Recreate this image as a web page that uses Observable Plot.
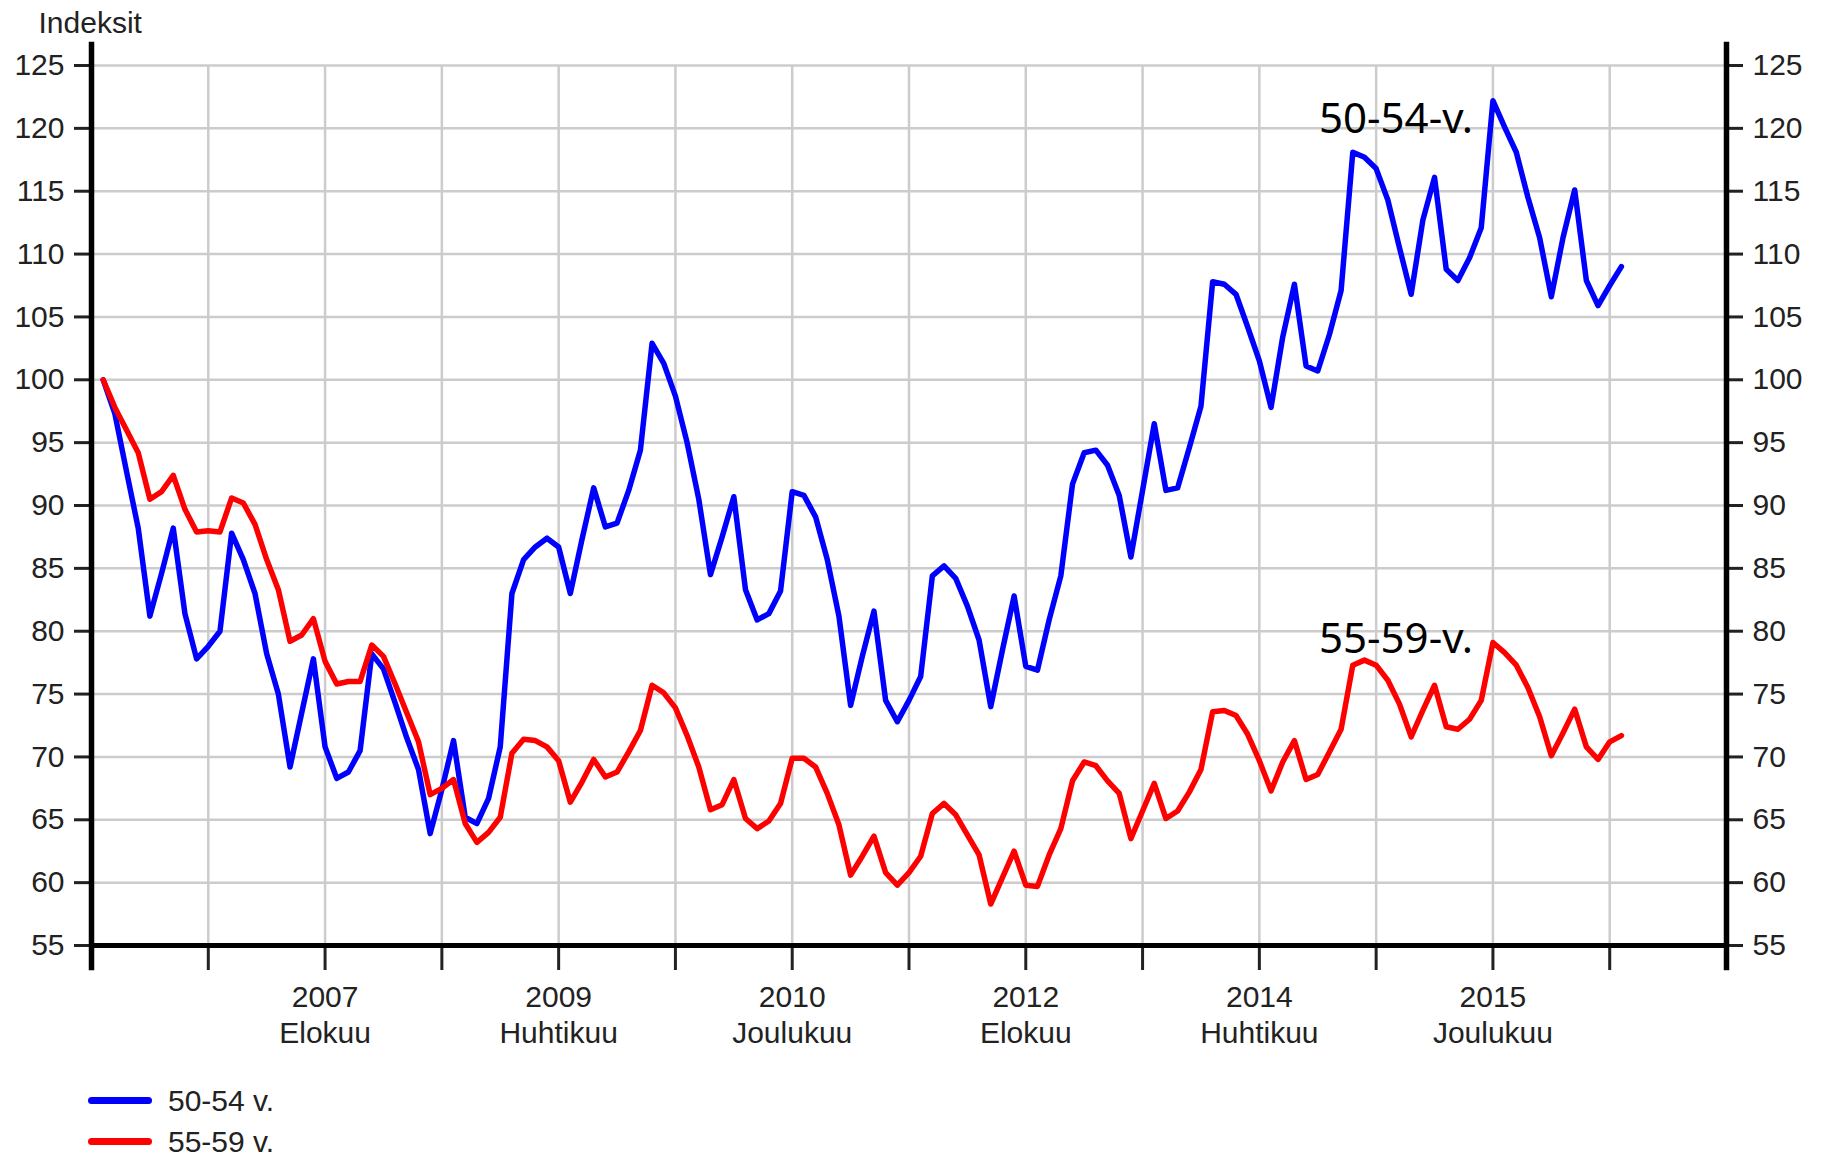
<!DOCTYPE html>
<html>
<head>
<meta charset="utf-8">
<script src="https://cdn.jsdelivr.net/npm/d3@7"></script>
<script src="https://cdn.jsdelivr.net/npm/@observablehq/plot@0.6"></script>
<style>
  html, body { margin: 0; padding: 0; background: #fff; }
  #chart { width: 1825px; height: 1070px; }
  .legend { font-family: "Liberation Sans", Arial, sans-serif; font-size: 30px; color: #222; padding-left: 88px; padding-top: 10px; }
  .legend .row { display: flex; align-items: center; height: 41px; }
  .legend .sw { width: 64px; height: 7px; border-radius: 4px; margin-right: 16px; }
</style>
</head>
<body>
<div id="chart"></div>
<div class="legend" id="legend"></div>
<script>
// Series: monthly index values, first value = January 2006 (month 1)
const series5054 = [
  100, 97.3, 92.7, 88.2, 81.2, 84.6, 88.2, 81.4, 77.8, 78.8,
  80.0, 87.8, 85.7, 83.0, 78.2, 75.0, 69.2, 73.5, 77.8, 70.8,
  68.3, 68.8, 70.5, 78.2, 77.0, 74.3, 71.5, 69.0, 63.9, 67.4,
  71.3, 65.2, 64.7, 66.7, 70.8, 83.0, 85.7, 86.7, 87.4, 86.7,
  83.0, 87.3, 91.4, 88.3, 88.6, 91.2, 94.4, 102.9, 101.3, 98.7,
  95.0, 90.5, 84.5, 87.5, 90.7, 83.3, 80.9, 81.4, 83.2, 91.1,
  90.8, 89.1, 85.7, 81.2, 74.1, 78.0, 81.6, 74.5, 72.8, 74.5,
  76.4, 84.4, 85.2, 84.2, 82.0, 79.3, 74.0, 78.5, 82.8, 77.2,
  76.9, 80.9, 84.4, 91.7, 94.2, 94.4, 93.2, 90.8, 85.9, 91.2,
  96.5, 91.2, 91.4, 94.6, 97.9, 107.8, 107.6, 106.8, 104.2, 101.5,
  97.8, 103.4, 107.6, 101.1, 100.7, 103.6, 107.1, 118.1, 117.7, 116.8,
  114.3, 110.5, 106.8, 112.7, 116.1, 108.8, 107.9, 109.7, 112.1, 122.2,
  120.1, 118.1, 114.5, 111.3, 106.6, 111.3, 115.1, 107.9, 105.9, 107.5,
  109.0
];
const series5559 = [
  100, 97.8, 96.0, 94.2, 90.5, 91.1, 92.4, 89.7, 87.9, 88.0,
  87.9, 90.6, 90.2, 88.5, 85.7, 83.3, 79.2, 79.7, 81.0, 77.6,
  75.8, 76.0, 76.0, 78.9, 78.0, 75.8, 73.5, 71.2, 67.0, 67.5,
  68.2, 64.7, 63.2, 64.0, 65.2, 70.3, 71.4, 71.3, 70.8, 69.7,
  66.4, 68.0, 69.8, 68.4, 68.8, 70.4, 72.1, 75.7, 75.1, 73.9,
  71.7, 69.2, 65.8, 66.2, 68.2, 65.1, 64.3, 64.9, 66.3, 69.9,
  69.9, 69.2, 67.1, 64.6, 60.6, 62.1, 63.7, 60.8, 59.8, 60.8,
  62.1, 65.5, 66.3, 65.4, 63.8, 62.2, 58.3, 60.4, 62.5, 59.8,
  59.7, 62.2, 64.3, 68.1, 69.6, 69.3, 68.1, 67.1, 63.5, 65.7,
  67.9, 65.1, 65.7, 67.2, 69.0, 73.6, 73.7, 73.3, 71.8, 69.7,
  67.3, 69.6, 71.3, 68.2, 68.6, 70.4, 72.2, 77.3, 77.7, 77.3,
  76.1, 74.2, 71.6, 73.7, 75.7, 72.4, 72.2, 73.0, 74.5, 79.1,
  78.3, 77.3, 75.5, 73.2, 70.1, 71.9, 73.8, 70.8, 69.8, 71.2,
  71.7
];
const seriesNames = ["50-54 v.", "55-59 v."];
const seriesColors = ["#0000ff", "#ff0000"];
const annotationLabels = ["50-54-v.", "55-59-v."];
const annotationMonth = [118.3, 118.3];
const annotationValue = [119.6, 78.3];

// Axis ticks (month index 0 = December 2005)
const xGridMonths = [10, 20, 30, 40, 50, 60, 70, 80, 90, 100, 110, 120, 130];
const xTickMonths = [10, 20, 30, 40, 50, 60, 70, 80, 90, 100, 110, 120, 130];
const xLabelMonths = [20, 40, 60, 80, 100, 120];
const xLabelYears = ["2007", "2009", "2010", "2012", "2014", "2015"];
const xLabelMonthNames = ["Elokuu", "Huhtikuu", "Joulukuu", "Elokuu", "Huhtikuu", "Joulukuu"];
const yTicks = [55, 60, 65, 70, 75, 80, 85, 90, 95, 100, 105, 110, 115, 120, 125];
const xDomain = [0, 140];
const yDomain = [55, 125];
const yAxisTitle = "Indeksit";

const rows = [
  ...series5054.map((v, i) => ({m: i + 1, v, s: seriesNames[0]})),
  ...series5559.map((v, i) => ({m: i + 1, v, s: seriesNames[1]}))
];
const annotations = annotationLabels.map((t, i) => ({t, m: annotationMonth[i], v: annotationValue[i]}));
const labelText = new Map(xLabelMonths.map((m, i) => [m, xLabelYears[i] + "\n" + xLabelMonthNames[i]]));

const font = "'Liberation Sans', Arial, sans-serif";
const ink = "#222";

const chart = Plot.plot({
  width: 1825,
  height: 1070,
  marginLeft: 91,
  marginRight: 99,
  marginTop: 65,
  marginBottom: 125,
  style: {fontFamily: font, color: ink, background: "#fff", overflow: "visible"},
  x: {domain: xDomain, label: null},
  y: {domain: yDomain, label: null},
  color: {domain: seriesNames, range: seriesColors},
  marks: [
    Plot.gridY({ticks: yTicks, stroke: "#cccccc", strokeOpacity: 1, strokeWidth: 2.5}),
    Plot.gridX({ticks: xGridMonths, stroke: "#cccccc", strokeOpacity: 1, strokeWidth: 2.5}),
    // y axes (left and right)
    Plot.axisY({anchor: "left", ticks: yTicks, tickSize: 17, tickPadding: 10, fontSize: 30, strokeWidth: 3, stroke: ink, label: null}),
    Plot.axisY({anchor: "right", ticks: yTicks, tickSize: 16, tickPadding: 10, fontSize: 30, strokeWidth: 3, stroke: ink, label: null}),
    // x ticks
    Plot.axisX({ticks: xTickMonths, tickSize: 25, tickFormat: () => "", strokeWidth: 3, stroke: ink, label: null}),
    // x labels (two lines)
    Plot.axisX({ticks: xLabelMonths, tickSize: 0, tickPadding: 35.5, tickFormat: d => labelText.get(d), fontSize: 30, lineHeight: 1.2, label: null}),
    // axis lines
    Plot.ruleY([yDomain[0]], {stroke: "#000", strokeWidth: 5}),
    Plot.ruleX(xDomain, {y1: 53.0, y2: 126.85, stroke: "#000", strokeWidth: 5.5}),
    // data
    Plot.line(rows, {x: "m", y: "v", z: "s", stroke: "s", strokeWidth: 5.5, strokeLinejoin: "round"}),
    // annotations
    Plot.text(annotations, {x: "m", y: "v", text: "t", textAnchor: "end", lineAnchor: "bottom", fontFamily: "'Noto Sans', 'Open Sans', sans-serif", fontSize: 42, fill: "#000"}),
    // y axis title
    Plot.text([yAxisTitle], {frameAnchor: "top-left", text: d => d, dx: -53, dy: -33, textAnchor: "start", lineAnchor: "bottom", fontSize: 30, fill: ink})
  ]
});
document.getElementById("chart").appendChild(chart);

const legend = document.getElementById("legend");
seriesNames.forEach((name, i) => {
  const row = document.createElement("div");
  row.className = "row";
  const sw = document.createElement("div");
  sw.className = "sw";
  sw.style.background = seriesColors[i];
  const tx = document.createElement("span");
  tx.textContent = name;
  row.appendChild(sw);
  row.appendChild(tx);
  legend.appendChild(row);
});
</script>
</body>
</html>
